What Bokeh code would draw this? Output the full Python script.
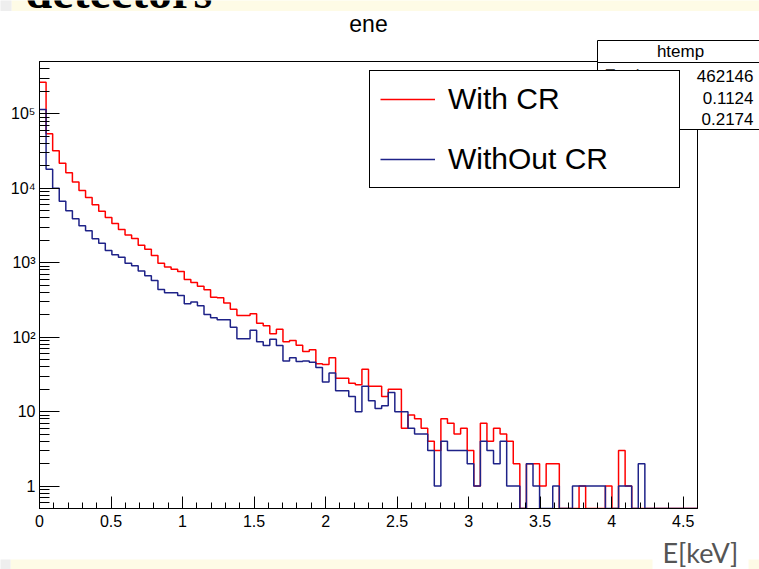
import numpy as np
from bokeh.plotting import figure
from bokeh.layouts import column
from bokeh.models import Range1d, FixedTicker, Label, BoxAnnotation, Legend, LegendItem
from bokeh.embed import file_html
from bokeh.resources import INLINE

# ---------------- data ----------------
x_lo, x_hi, n_bins = 0.0, 4.6, 100
y_lo, y_hi = 0.5, 5.04e5

with_cr = [266000, 54000, 32000, 21700, 16100, 12100, 9300, 7500, 6000, 4900,
           4050, 3370, 2800, 2350, 2120, 1710, 1520, 1250, 987, 873,
           820, 764, 596, 543, 484, 433, 345, 338, 287, 238,
           196, 196, 206, 154, 142, 111, 128, 87, 90, 78,
           64, 68, 44, 43, 53, 28, 28, 24, 23, 37,
           22, 22, 16, 20, 20, 6, 9, 8, 6, 4,
           3, 8, 7, 5, 6, 3, 1, 7, 4, 6,
           5, 4, 2, 0, 2, 2, 1, 2, 2, 0,
           0, 0, 1, 0, 0, 0, 1, 0, 3, 1,
           0, 0, 0, 0, 0, 0, 0, 0, 0, 0]

without_cr = [114000, 18000, 10000, 6700, 5000, 3900, 3130, 2690, 2100, 1830,
              1460, 1280, 1180, 986, 910, 771, 668, 578, 437, 395,
              395, 364, 281, 296, 264, 202, 182, 171, 171, 136,
              95, 95, 124, 87, 77, 94, 77, 48, 53, 47,
              48, 46, 39, 25, 33, 19, 19, 16, 10, 22,
              14, 11, 12, 18, 10, 10, 6, 5, 5, 3,
              1, 4, 3, 3, 3, 2, 1, 4, 3, 2,
              4, 1, 1, 0, 2, 1, 0, 0, 1, 0,
              0, 1, 1, 1, 1, 1, 0, 0, 1, 1,
              0, 2, 0, 0, 0, 0, 0, 0, 0, 0]

x_major_ticks = [0, 0.5, 1, 1.5, 2, 2.5, 3, 3.5, 4, 4.5]
x_tick_labels = ["0", "0.5", "1", "1.5", "2", "2.5", "3", "3.5", "4", "4.5"]
y_major_ticks = [1, 10, 100, 1000, 10000, 100000]
y_tick_labels = ["1", "10", "10²", "10³", "10⁴", "10⁵"]

series_labels = ["With CR", "WithOut CR"]
series_colors = ["#ff0000", "#1e2288"]

slide_title = "detectors"
hist_title = "ene"
stats_name = "htemp"
stats_rows = [("Entries", "462146"), ("Mean", "0.1124"), ("Std Dev", "0.2174")]
x_axis_title = "E[keV]"

# ---------------- layout ----------------
W, H = 759, 569
FL, FR, FT, FB = 39, 697, 61, 508   # frame edges in page pixels
FONT = "Liberation Sans"

p = figure(width=W, height=H, output_backend="svg", toolbar_location=None,
           title_location=None,
           x_range=Range1d(x_lo, x_hi), y_range=Range1d(y_lo, y_hi),
           y_axis_type="log",
           min_border_left=FL, min_border_right=W - FR,
           min_border_top=FT, min_border_bottom=H - FB)
p.frame_align = False
p.background_fill_color = "white"
p.border_fill_color = "white"
p.outline_line_color = "black"
p.outline_line_width = 1
p.xgrid.visible = False
p.ygrid.visible = False

edges = np.linspace(x_lo, x_hi, n_bins + 1)
renderers = []
for vals, col in zip([with_cr, without_cr], series_colors):
    v = np.maximum(np.array(vals, dtype=float), y_lo)
    ys = np.append(v, v[-1])
    r = p.step(edges, ys, mode="after", line_color=col, line_width=1.5)
    renderers.append(r)

# axes
xa = p.xaxis[0]
xa.ticker = FixedTicker(ticks=x_major_ticks,
                        minor_ticks=[round(0.1 * i, 1) for i in range(0, 47)])
xa.major_label_overrides = {float(t): s for t, s in zip(x_major_ticks, x_tick_labels)}
ya = p.yaxis[0]
minor_y = [k * 10.0 ** n for n in range(-1, 6) for k in range(2, 10)]
minor_y = [m for m in minor_y if y_lo <= m <= y_hi]
ya.ticker = FixedTicker(ticks=y_major_ticks, minor_ticks=minor_y)
ya.major_label_overrides = {float(t): s for t, s in zip(y_major_ticks, y_tick_labels)}

for ax in (xa, ya):
    ax.axis_line_color = "black"
    ax.major_tick_line_color = "black"
    ax.minor_tick_line_color = "black"
    ax.major_tick_out = 0
    ax.minor_tick_out = 0
    ax.major_label_text_font = FONT
    ax.major_label_text_font_size = "16px"
    ax.major_label_text_color = "black"
xa.major_tick_in = 12
xa.minor_tick_in = 6
xa.major_label_standoff = 6
ya.major_tick_in = 20
ya.minor_tick_in = 10
ya.major_label_standoff = 4

# stats box: the part inside the frame (under the legend)
p.add_layout(BoxAnnotation(left=597 - FL, right=790 - FL, top=FB - 40, bottom=FB - 129,
                           left_units="screen", right_units="screen",
                           top_units="screen", bottom_units="screen",
                           fill_color="white", fill_alpha=1.0,
                           line_color="black", line_alpha=1.0, line_width=1))
for (name, val), yy in zip(stats_rows, [75, 97, 118]):
    p.add_layout(Label(x=604 - FL, y=FB - yy, x_units="screen", y_units="screen",
                       text=name, text_font=FONT, text_font_size="17px",
                       text_baseline="middle"))

# legend
legend = Legend(items=[LegendItem(label=lab, renderers=[r])
                       for lab, r in zip(series_labels, renderers)],
                location=(369 - FL, FB - 188), margin=0, padding=10,
                spacing=24, glyph_width=55, glyph_height=36, label_height=36,
                label_width=221, label_standoff=13,
                label_text_font=FONT, label_text_font_size="30px",
                label_text_color="black",
                border_line_color="black", border_line_width=1, border_line_alpha=1.0,
                background_fill_color="white", background_fill_alpha=1.0)
p.add_layout(legend, "center")

# ---------------- transparent overlay for everything outside the frame -------------
q = figure(width=W, height=H, output_backend="svg", toolbar_location=None,
           title_location=None, x_axis_location=None, y_axis_location=None,
           x_range=Range1d(0, W), y_range=Range1d(H, 0), min_border=0)
q.frame_align = False
q.xgrid.visible = False
q.ygrid.visible = False
q.outline_line_color = None
q.background_fill_alpha = 0
q.border_fill_alpha = 0
q.styles = {"margin-top": f"-{H}px"}


def box(x0, x1, y0, y1, fill, line=None):
    q.add_layout(BoxAnnotation(left=x0, right=x1, top=y0, bottom=y1,
                               fill_color=fill, fill_alpha=1.0,
                               line_color=line if line else fill,
                               line_alpha=1.0 if line else 0.0, line_width=1))


def label(X, Y, text, size, align="left", baseline="middle",
          font=FONT, style="normal", color="black"):
    q.add_layout(Label(x=X, y=Y, text=text, text_font=font, text_font_size=f"{size}px",
                       text_align=align, text_baseline=baseline,
                       text_font_style=style, text_color=color))


# slide decorations
box(11, 760, -2, 10.5, "#fefbe6")
box(-2, 11, -2, 10.5, "#eeeeee")
label(25, -9, slide_title, 48, baseline="alphabetic", font="Liberation Serif", style="bold")
box(10, 652, 559, 572, "#fefbe6")
box(748, 760, 559, 572, "#fefbe6")
box(-2, 10, 559, 572, "#eeeeee")
label(662, 552, x_axis_title, 27, baseline="alphabetic", font="Lato", color="#555555")

# histogram title
label(368, 23, hist_title, 23, align="center")

# stats box: the parts outside the frame
box(696, 775, 62, 129, "white")
box(679.5, 775, 128.5, 129.5, "black")
box(597, 775, 40, 62, "white", "black")
label(680, 51, stats_name, 17, align="center")
for (name, val), yy in zip(stats_rows, [75, 97, 118]):
    label(753, yy, val, 17, align="right")

open("out.html", "w").write(file_html(column(p, q, spacing=0), INLINE))
